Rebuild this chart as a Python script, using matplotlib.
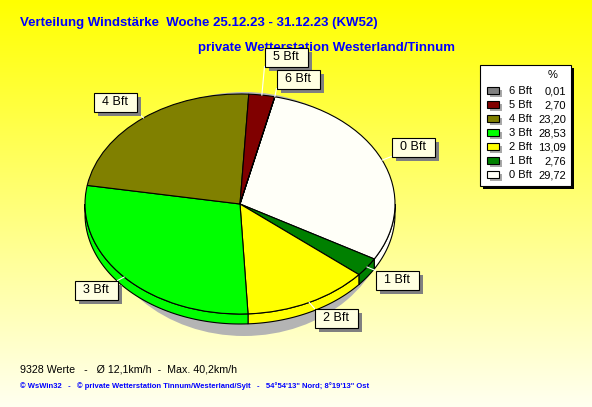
import numpy as np
import matplotlib.pyplot as plt
from matplotlib.patches import Rectangle, Polygon, Ellipse

plt.rcParams['font.family'] = ['Liberation Sans', 'DejaVu Sans']

# data (percent per Beaufort class)
beaufort = ['0 Bft', '1 Bft', '2 Bft', '3 Bft', '4 Bft', '5 Bft', '6 Bft']
percent = [29.72, 2.76, 13.09, 28.53, 23.20, 2.70, 0.01]
colours = ['#FFFFF8', '#008000', '#FFFF00', '#00FF00', '#808000', '#800000', '#808080']

title = 'Verteilung Windstärke  Woche 25.12.23 - 31.12.23 (KW52)'
subtitle = 'private Wetterstation Westerland/Tinnum'
stats = '9328 Werte   -   Ø 12,1km/h  -  Max. 40,2km/h'
footer = '© WsWin32   -   © private Wetterstation Tinnum/Westerland/Sylt   -   54°54\'13" Nord; 8°19\'13" Ost'

W, H = 592, 407
cx, cy, rx, ry = 240, 204, 155, 110   # pie ellipse in pixels
depth = 10

# label boxes (centre, pixels)
label_pos = {'0 Bft': (413, 147), '1 Bft': (397, 280), '2 Bft': (336, 318),
             '3 Bft': (96, 290), '4 Bft': (115, 102), '5 Bft': (286, 57),
             '6 Bft': (298, 79)}

fig = plt.figure(figsize=(W / 100, H / 100), dpi=100)

# background gradient
bg = fig.add_axes([0, 0, 1, 1], zorder=0)
g = np.linspace(0, 1, 256)
img = np.ones((256, 1, 3))
img[:, 0, 2] = g * 0.94
bg.imshow(img, aspect='auto', extent=[0, 1, 0, 1], origin='upper')
bg.axis('off')

# pie
ax = fig.add_axes([0, 0, 1, 1], zorder=1)
ax.patch.set_visible(False)
wedges, _ = ax.pie(percent, colors=colours, startangle=77, counterclock=False,
                   wedgeprops=dict(edgecolor='black', linewidth=0.8, zorder=1))
ax.set_aspect('auto')
ax.set_xlim(-cx / rx, (W - cx) / rx)
ax.set_ylim(-(H - cy) / ry, cy / ry)
ax.axis('off')

ax.add_patch(Ellipse(((244 - cx) / rx, -(214 - cy) / ry), 2 * 145 / rx, 2 * 122 / ry,
                     fc='#B4B4B4', ec='none', zorder=0.5))

t = depth / ry
for w, c in zip(wedges, colours):
    for lo, hi in [(-180, 0), (180, 360)]:
        a0, a1 = max(w.theta1, lo), min(w.theta2, hi)
        if a1 <= a0:
            continue
        th = np.radians(np.linspace(a0, a1, 80))
        x, y = np.cos(th), np.sin(th)
        pts = np.column_stack([np.r_[x, x[::-1]], np.r_[y, y[::-1] - t]])
        ax.add_patch(Polygon(pts, closed=True, fc=c, ec='black', lw=0.8, zorder=0.8))

# overlay in pixel coords
ov = fig.add_axes([0, 0, 1, 1], zorder=2)
ov.patch.set_visible(False)
ov.set_xlim(0, W)
ov.set_ylim(H, 0)
ov.axis('off')

ov.text(20, 23, title, color='#0000FF', fontsize=9.5, fontweight='bold', va='center', zorder=1)
ov.text(198, 48, subtitle, color='#0000FF', fontsize=9.5, fontweight='bold', va='center', zorder=1)
ov.text(20, 369, stats, color='black', fontsize=7.7, va='center')
ov.text(20, 386, footer, color='#0000FF', fontsize=5.5, fontweight='bold', va='center')

bw, bh = 43, 19
for w, name in zip(wedges, beaufort):
    m = np.radians((w.theta1 + w.theta2) / 2)
    sx, sy = cx + rx * np.cos(m), cy - ry * np.sin(m)
    lx, ly = label_pos[name]
    x0, y0 = lx - bw / 2, ly - bh / 2
    ex, ey = np.clip(sx, x0, x0 + bw), np.clip(sy, y0, y0 + bh)
    ov.plot([sx, ex], [sy, ey], color='white', lw=0.8, zorder=2)
    ov.add_patch(Rectangle((x0 + 4, y0 + 4), bw, bh, fc='#808080', ec='none', zorder=3))
    ov.add_patch(Rectangle((x0, y0), bw, bh, fc='#FFFFE1', ec='black', lw=0.8, zorder=4))
    ov.text(lx, ly, name, fontsize=9, ha='center', va='center', zorder=5)

# legend
ov.add_patch(Rectangle((483, 68), 91, 121, fc='black', ec='none', zorder=3))
ov.add_patch(Rectangle((480, 65), 91, 121, fc='white', ec='black', lw=0.8, zorder=4))
ov.text(553, 75, '%', fontsize=8, ha='center', va='center', zorder=5)
for i, (name, v, c) in enumerate(zip(beaufort[::-1], percent[::-1], colours[::-1])):
    ry_ = 91 + 14 * i
    ov.add_patch(Rectangle((490, ry_ - 1.5), 12, 7, fc='#A8A8A8', ec='none', zorder=5))
    ov.add_patch(Rectangle((487, ry_ - 4), 12, 7, fc=c, ec='black', lw=0.8, zorder=6))
    ov.text(509, ry_, name, fontsize=8, va='center', zorder=6)
    ov.text(566, ry_, f'{v:.2f}'.replace('.', ','), fontsize=8, ha='right', va='center', zorder=6)

fig.savefig('out.png', dpi=100)
